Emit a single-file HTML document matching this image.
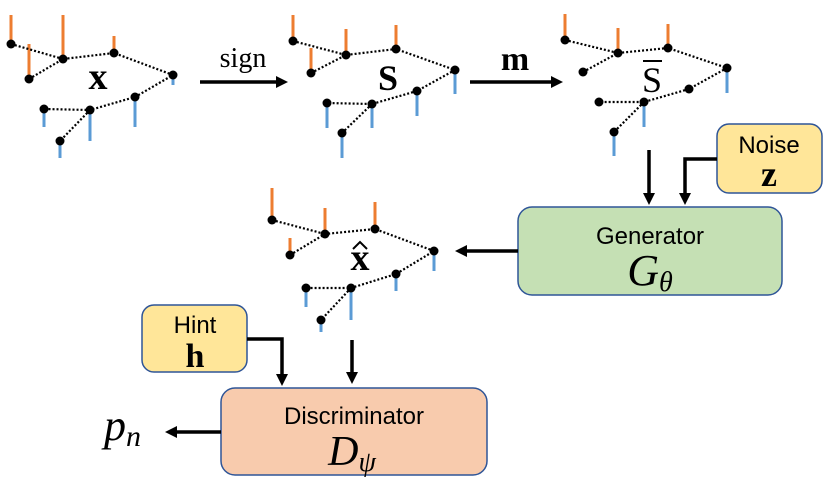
<!DOCTYPE html>
<html><head><style>
html,body{margin:0;padding:0;background:#fff;}
svg{display:block;}
.dot{stroke:#000;stroke-width:2.2;stroke-dasharray:2 2;fill:none}
.o{stroke:#ed7d31;stroke-width:3}
.b{stroke:#5b9bd5;stroke-width:3}
text{font-family:"Liberation Serif",serif;}
.s{font-family:"Liberation Sans",sans-serif;}
</style></head><body>
<svg width="830" height="485" viewBox="0 0 830 485" xmlns="http://www.w3.org/2000/svg">
<defs>
<marker id="ah" markerWidth="12" markerHeight="12" refX="2" refY="6" orient="auto" markerUnits="userSpaceOnUse">
<path d="M0,0 L12,6 L0,12 z" fill="#000"/></marker>
</defs>
<!-- graph x -->
<g>
<line class="o" x1="11" y1="44" x2="11" y2="15"/><line class="o" x1="29" y1="79" x2="29" y2="44"/><line class="o" x1="63" y1="59" x2="63" y2="15"/><line class="o" x1="114" y1="53" x2="114" y2="36"/>
<line class="b" x1="173" y1="75" x2="173" y2="85"/><line class="b" x1="135" y1="97" x2="135" y2="127"/><line class="b" x1="90" y1="110" x2="90" y2="141"/><line class="b" x1="44" y1="109" x2="44" y2="127"/><line class="b" x1="60" y1="141" x2="60" y2="158"/>
<path class="dot" d="M11,44 L63,59 M29,79 L63,59 L114,53 L173,75 L135,97 L90,110 L44,109 M90,110 L60,141"/>
<g fill="#000"><circle cx="11" cy="44" r="4.5"/><circle cx="63" cy="59" r="4.5"/><circle cx="29" cy="79" r="4.5"/><circle cx="114" cy="53" r="4.5"/><circle cx="173" cy="75" r="4.5"/><circle cx="135" cy="97" r="4.5"/><circle cx="90" cy="110" r="4.5"/><circle cx="44" cy="109" r="4.5"/><circle cx="60" cy="141" r="4.5"/></g>
<text x="98" y="89" font-size="38" font-weight="bold" text-anchor="middle">x</text>
</g>
<!-- graph s -->
<g>
<line class="o" x1="293" y1="41" x2="293" y2="15"/><line class="o" x1="311" y1="73" x2="311" y2="48"/><line class="o" x1="346" y1="55" x2="346" y2="29"/><line class="o" x1="396" y1="49" x2="396" y2="25"/>
<line class="b" x1="455" y1="70" x2="455" y2="94"/><line class="b" x1="417" y1="91" x2="417" y2="116"/><line class="b" x1="372" y1="104" x2="372" y2="128"/><line class="b" x1="327" y1="103" x2="327" y2="128"/><line class="b" x1="342" y1="133" x2="342" y2="158"/>
<path class="dot" d="M293,41 L346,55 M311,73 L346,55 L396,49 L455,70 L417,91 L372,104 L327,103 M372,104 L342,133"/>
<g fill="#000"><circle cx="293" cy="41" r="4.5"/><circle cx="346" cy="55" r="4.5"/><circle cx="311" cy="73" r="4.5"/><circle cx="396" cy="49" r="4.5"/><circle cx="455" cy="70" r="4.5"/><circle cx="417" cy="91" r="4.5"/><circle cx="372" cy="104" r="4.5"/><circle cx="327" cy="103" r="4.5"/><circle cx="342" cy="133" r="4.5"/></g>
<text x="388" y="90" font-size="36" font-weight="bold" text-anchor="middle">S</text>
</g>
<!-- graph sbar -->
<g>
<line class="o" x1="565" y1="40" x2="565" y2="14"/><line class="o" x1="618" y1="53" x2="618" y2="28"/><line class="o" x1="668" y1="48" x2="668" y2="24"/>
<line class="b" x1="727" y1="68" x2="727" y2="93"/><line class="b" x1="644" y1="102" x2="644" y2="127"/><line class="b" x1="614" y1="132" x2="614" y2="156"/>
<path class="dot" d="M565,40 L618,53 M583,72 L618,53 L668,48 L727,68 L689,89 L644,102 L599,102 M644,102 L614,132"/>
<g fill="#000"><circle cx="565" cy="40" r="4.5"/><circle cx="618" cy="53" r="4.5"/><circle cx="583" cy="72" r="4.5"/><circle cx="668" cy="48" r="4.5"/><circle cx="727" cy="68" r="4.5"/><circle cx="689" cy="89" r="4.5"/><circle cx="644" cy="102" r="4.5"/><circle cx="599" cy="102" r="4.5"/><circle cx="614" cy="132" r="4.5"/></g>
<text x="652" y="92" font-size="36" text-anchor="middle">S</text>
<line x1="643" y1="61" x2="662" y2="61" stroke="#000" stroke-width="2"/>
</g>
<!-- graph xhat -->
<g>
<line class="o" x1="272" y1="220" x2="272" y2="188"/><line class="o" x1="290" y1="255" x2="290" y2="238"/><line class="o" x1="325" y1="234" x2="325" y2="208"/><line class="o" x1="375" y1="229" x2="375" y2="202"/>
<line class="b" x1="434" y1="251" x2="434" y2="271"/><line class="b" x1="396" y1="274" x2="396" y2="291"/><line class="b" x1="351" y1="288" x2="351" y2="320"/><line class="b" x1="306" y1="288" x2="306" y2="307"/><line class="b" x1="321" y1="320" x2="321" y2="332"/>
<path class="dot" d="M272,220 L325,234 M290,255 L325,234 L375,229 L434,251 L396,274 L351,288 L306,288 M351,288 L321,320"/>
<g fill="#000"><circle cx="272" cy="220" r="4.5"/><circle cx="325" cy="234" r="4.5"/><circle cx="290" cy="255" r="4.5"/><circle cx="375" cy="229" r="4.5"/><circle cx="434" cy="251" r="4.5"/><circle cx="396" cy="274" r="4.5"/><circle cx="351" cy="288" r="4.5"/><circle cx="306" cy="288" r="4.5"/><circle cx="321" cy="320" r="4.5"/></g>
<text x="360" y="270" font-size="38" font-weight="bold" text-anchor="middle">x</text>
<path d="M353,249 L360,242 L367,249" fill="none" stroke="#000" stroke-width="2"/>
</g>
<!-- top arrows -->
<line x1="200" y1="82" x2="278" y2="82" stroke="#000" stroke-width="3.5" marker-end="url(#ah)"/>
<text x="243" y="67" font-size="28" text-anchor="middle">sign</text>
<line x1="470" y1="82" x2="553" y2="82" stroke="#000" stroke-width="3.5" marker-end="url(#ah)"/>
<text x="515" y="70" font-size="34" font-weight="bold" text-anchor="middle">m</text>
<!-- noise -->
<rect x="717" y="124" width="105" height="69" rx="12" fill="#ffe699" stroke="#2f5597" stroke-width="1.5"/>
<text class="s" x="769" y="153" font-size="24" text-anchor="middle">Noise</text>
<text x="769" y="186" font-size="36" font-weight="bold" text-anchor="middle">z</text>
<!-- generator -->
<rect x="518" y="207" width="264" height="88" rx="14" fill="#c5e0b4" stroke="#2f5597" stroke-width="1.5"/>
<text class="s" x="650" y="244" font-size="24" text-anchor="middle">Generator</text>
<text x="650" y="285" font-size="44" font-style="italic" text-anchor="middle">G<tspan font-size="28" dy="6">θ</tspan></text>
<line x1="649" y1="150" x2="649" y2="195" stroke="#000" stroke-width="3.5" marker-end="url(#ah)"/>
<polyline points="717,159 685,159 685,195" fill="none" stroke="#000" stroke-width="3.5" marker-end="url(#ah)"/>
<line x1="518" y1="251" x2="465" y2="251" stroke="#000" stroke-width="3.5" marker-end="url(#ah)"/>
<!-- hint -->
<rect x="142" y="305" width="105" height="67" rx="12" fill="#ffe699" stroke="#2f5597" stroke-width="1.5"/>
<text class="s" x="195" y="333" font-size="24" text-anchor="middle">Hint</text>
<text x="195" y="367" font-size="34" font-weight="bold" text-anchor="middle">h</text>
<!-- discriminator -->
<rect x="221" y="388" width="266" height="87" rx="14" fill="#f8cbad" stroke="#2f5597" stroke-width="1.5"/>
<text class="s" x="354" y="424" font-size="24" text-anchor="middle">Discriminator</text>
<text x="352" y="465" font-size="42" font-style="italic" text-anchor="middle">D<tspan font-size="28" dy="6">ψ</tspan></text>
<polyline points="247,339 282,339 282,376" fill="none" stroke="#000" stroke-width="3.5" marker-end="url(#ah)"/>
<line x1="352" y1="340" x2="352" y2="374" stroke="#000" stroke-width="3.5" marker-end="url(#ah)"/>
<line x1="221" y1="432" x2="175" y2="432" stroke="#000" stroke-width="3.5" marker-end="url(#ah)"/>
<text x="104" y="440" font-size="44" font-style="italic">p<tspan font-size="30" dy="6">n</tspan></text>
</svg>
</body></html>
